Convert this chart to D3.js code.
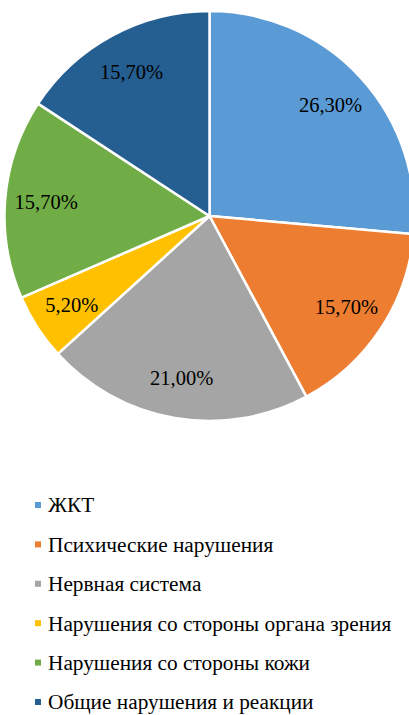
<!DOCTYPE html>
<html>
<head>
<meta charset="utf-8">
<script src="https://cdn.jsdelivr.net/npm/d3@7"></script>
<style>
  html, body { margin: 0; padding: 0; background: #fff; overflow: hidden; }
  svg { display: block; }
  text { font-family: 'Liberation Serif', 'Times New Roman', serif; fill: #000; }
</style>
</head>
<body>
<svg id="chart" width="409" height="715"></svg>
<script>
const categories = [
  'ЖКТ',
  'Психические нарушения',
  'Нервная система',
  'Нарушения со стороны органа зрения',
  'Нарушения со стороны кожи',
  'Общие нарушения и реакции'
];
const values = [26.3, 15.7, 21.0, 5.2, 15.7, 15.7];
const labels = ['26,30%', '15,70%', '21,00%', '5,20%', '15,70%', '15,70%'];
const colors = ['#5B9BD5', '#ED7D31', '#A5A5A5', '#FFC000', '#70AD47', '#255E91'];

const cx = 209.5, cy = 216, radius = 205;

const svg = d3.select('#chart');

const color = d3.scaleOrdinal().domain(categories).range(colors);

const pie = d3.pie().sort(null).value((d, i) => values[i]);
const arcs = pie(categories);

const arc = d3.arc().innerRadius(0).outerRadius(radius);
const labelArc = d3.arc().innerRadius(radius * 0.8).outerRadius(radius * 0.8);

const g = svg.append('g').attr('transform', `translate(${cx},${cy})`);

g.selectAll('path.slice')
  .data(arcs)
  .enter()
  .append('path')
  .attr('class', 'slice')
  .attr('d', arc)
  .attr('fill', d => color(d.data))
  .attr('stroke', '#fff')
  .attr('stroke-width', 2.5)
  .attr('stroke-linejoin', 'round');

g.selectAll('text.label')
  .data(arcs)
  .enter()
  .append('text')
  .attr('class', 'label')
  .attr('transform', d => `translate(${labelArc.centroid(d)})`)
  .attr('text-anchor', 'middle')
  .attr('dy', '0.35em')
  .style('font-size', '20.5px')
  .text((d, i) => labels[i]);

// legend
const legendY = d3.scalePoint().domain(categories).range([505, 702]);

const items = svg.append('g')
  .attr('class', 'legend')
  .selectAll('g')
  .data(categories)
  .enter()
  .append('g')
  .attr('transform', d => `translate(0,${legendY(d)})`);

items.append('rect')
  .attr('x', 35)
  .attr('y', -3)
  .attr('width', 6)
  .attr('height', 6)
  .attr('fill', d => color(d));

items.append('text')
  .attr('x', 48)
  .attr('dy', '0.35em')
  .style('font-size', '21.3px')
  .text(d => d);
</script>
</body>
</html>
